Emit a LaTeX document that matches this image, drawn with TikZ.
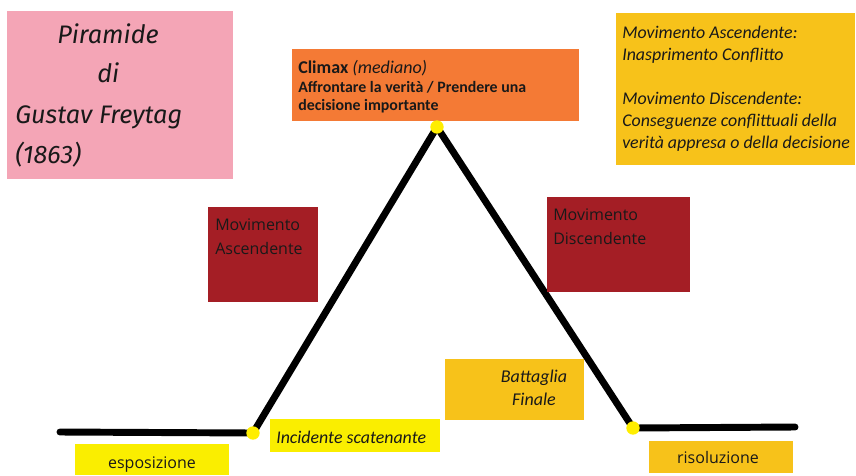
\documentclass[tikz,border=0pt]{standalone}
\usepackage{fontspec}
\setmainfont{Carlito}
\newfontfamily\segoe{Open Sans}
\newfontfamily\handfont{Fira Sans}
\usetikzlibrary{positioning}

\definecolor{pinkbox}{HTML}{F4A5B6}
\definecolor{orangebox}{HTML}{F47A35}
\definecolor{goldbox}{HTML}{F7C21A}
\definecolor{redbox}{HTML}{A41E25}
\definecolor{lemonbox}{HTML}{FAEE00}
\definecolor{dotyellow}{HTML}{FFEE00}

\tikzset{
  box/.style={rectangle, inner sep=0pt, anchor=north west},
  txt/.style={inner sep=0pt, text=black!90, align=left},
  dot/.style={circle, fill=dotyellow, inner sep=0pt, minimum size=10pt},
  plotline/.style={line width=5.2pt, line cap=round, line join=round},
}

\begin{document}
\begin{tikzpicture}[x=0.75pt,y=-0.75pt]
    \useasboundingbox (0,0) rectangle (856,475);

    % draw the pyramid line
    \coordinate (left) at (60,432);
    \coordinate (inc) at (253,433);
    \coordinate (top) at (437,127);
    \coordinate (res) at (633,428);
    \coordinate (right) at (795,427);
    \draw[plotline] (left) -- (inc) -- (top) -- (res) -- (right);

    % draw boxes
    \node[box, fill=pinkbox, minimum width=169.5pt, minimum height=126pt] (titlebox) at (7,11) {};
    \node[box, fill=orangebox, minimum width=215.25pt, minimum height=54pt] (climaxbox) at (292,49) {};
    \node[box, fill=goldbox, minimum width=179.25pt, minimum height=114pt] (notebox) at (616,13) {};
    \node[box, fill=redbox, minimum width=82.5pt, minimum height=71.25pt] (ascbox) at (208,207) {};
    \node[box, fill=redbox, minimum width=107.25pt, minimum height=71.25pt] (discbox) at (547,197) {};
    \node[box, fill=goldbox, minimum width=104.25pt, minimum height=45.75pt] (battlebox) at (445,359) {};
    \node[box, fill=lemonbox, minimum width=127.5pt, minimum height=24.75pt] (incbox) at (270,419) {};
    \node[box, fill=lemonbox, minimum width=115.5pt, minimum height=23.25pt] (expbox) at (75,444) {};
    \node[box, fill=goldbox, minimum width=108pt, minimum height=24pt] (resbox) at (649,441) {};

    % draw the title
    \node[txt, anchor=base west, font=\handfont\itshape\fontsize{19}{22}\selectfont] (t1) at (57,43) {Piramide};
    \node[txt, anchor=base west, font=\handfont\itshape\fontsize{19}{22}\selectfont] (t2) at (97,82) {di};
    \node[txt, anchor=base west, font=\handfont\itshape\fontsize{19}{22}\selectfont] (t3) at (15,123) {Gustav Freytag};
    \node[txt, anchor=base west, font=\handfont\itshape\fontsize{19}{22}\selectfont] (t4) at (15,163) {(1863)};

    % draw texts
    \node[txt, anchor=north west, font=\bfseries\fontsize{11.9}{14}\selectfont] (climax) at (298,60)
        {{\fontsize{13.5}{14}\selectfont Climax \mdseries\itshape(mediano)}\\
         Affrontare la verità / Prendere una\\ decisione importante};
    \node[txt, anchor=north west, font=\itshape\fontsize{13.4}{16.5}\selectfont] (notes) at (622,25.5)
        {Movimento Ascendente:\\ Inasprimento Conflitto\\[16.5pt]
         Movimento Discendente:\\ Conseguenze conflittuali della\\ verità appresa o della decisione};
    \node[txt, anchor=north west, font=\segoe\fontsize{12}{18}\selectfont] (asc) at (215,218)
        {Movimento\\ Ascendente};
    \node[txt, anchor=north west, font=\segoe\fontsize{12}{18}\selectfont] (disc) at (553,208)
        {Movimento\\ Discendente};
    \node[txt, anchor=north, align=center, font=\itshape\fontsize{13.5}{17.25}\selectfont] (battle) at (534,370)
        {Battaglia\\ Finale};
    \node[txt, anchor=base west, font=\itshape\fontsize{13.4}{15}\selectfont] (incident) at (276,443) {Incidente scatenante};
    \node[txt, anchor=base, font=\segoe\fontsize{12}{14}\selectfont] (exposition) at (152,468) {esposizione};
    \node[txt, anchor=base, font=\segoe\fontsize{12}{14}\selectfont] (resolution) at (718,463) {risoluzione};

    % draw yellow points
    \node[dot] (incdot) at (inc) {};
    \node[dot] (topdot) at (top) {};
    \node[dot] (resdot) at (res) {};
\end{tikzpicture}
\end{document}
